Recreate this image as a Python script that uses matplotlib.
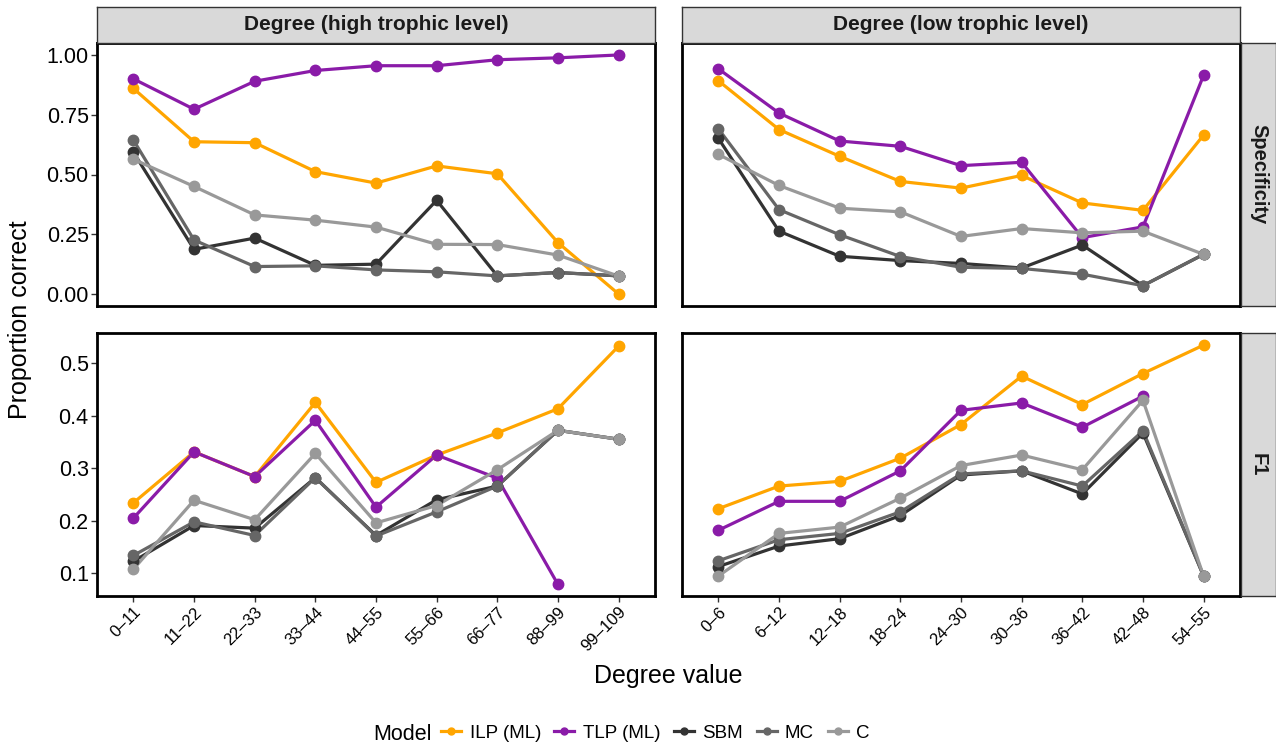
"""
Proporción correcta por grado (specificity y F1), una faceta por nivel trófico
"""

import numpy as np
import matplotlib
matplotlib.use('Agg')
import matplotlib.pyplot as plt
from matplotlib.lines import Line2D

plt.rcParams['font.family'] = ['Liberation Sans', 'DejaVu Sans']

# categorías del eje x
high_cats = ['0–11', '11–22', '22–33', '33–44', '44–55', '55–66', '66–77', '88–99', '99–109']
low_cats = ['0–6', '6–12', '12–18', '18–24', '24–30', '30–36', '36–42', '42–48', '54–55']

models = ['ILP (ML)', 'TLP (ML)', 'SBM', 'MC', 'C']
colors = ['#FFA500', '#8A1BA8', '#333333', '#666666', '#999999']

nan = np.nan

# Specificity, nivel trófico alto
spec_high = {
    'ILP (ML)': [0.86, 0.637, 0.633, 0.512, 0.464, 0.536, 0.503, 0.215, 0.00],
    'TLP (ML)': [0.90, 0.773, 0.89, 0.935, 0.955, 0.955, 0.98, 0.988, 1.00],
    'SBM': [0.593, 0.187, 0.234, 0.12, 0.125, 0.392, 0.076, 0.09, 0.076],
    'MC': [0.644, 0.226, 0.115, 0.118, 0.101, 0.093, 0.076, 0.09, 0.076],
    'C': [0.564, 0.45, 0.331, 0.309, 0.28, 0.208, 0.207, 0.163, 0.075],
}

# Specificity, nivel trófico bajo
spec_low = {
    'ILP (ML)': [0.892, 0.688, 0.576, 0.471, 0.443, 0.496, 0.381, 0.35, 0.665],
    'TLP (ML)': [0.942, 0.757, 0.64, 0.618, 0.537, 0.551, 0.236, 0.281, 0.915],
    'SBM': [0.651, 0.263, 0.158, 0.14, 0.128, 0.109, 0.205, 0.035, 0.166],
    'MC': [0.691, 0.353, 0.248, 0.157, 0.112, 0.107, 0.083, 0.035, 0.166],
    'C': [0.584, 0.454, 0.359, 0.344, 0.241, 0.274, 0.256, 0.263, 0.166],
}

# F1, nivel trófico alto
f1_high = {
    'ILP (ML)': [0.234, 0.331, 0.284, 0.425, 0.273, 0.325, 0.367, 0.413, 0.532],
    'TLP (ML)': [0.205, 0.331, 0.284, 0.391, 0.226, 0.325, 0.281, 0.079, nan],
    'SBM': [0.123, 0.191, 0.186, 0.282, 0.172, 0.24, 0.266, 0.372, 0.355],
    'MC': [0.134, 0.198, 0.172, 0.282, 0.171, 0.217, 0.266, 0.372, 0.355],
    'C': [0.108, 0.239, 0.202, 0.328, 0.196, 0.229, 0.297, 0.372, 0.355],
}

# F1, nivel trófico bajo
f1_low = {
    'ILP (ML)': [0.223, 0.266, 0.275, 0.319, 0.383, 0.475, 0.421, 0.48, 0.534],
    'TLP (ML)': [0.182, 0.237, 0.237, 0.295, 0.41, 0.424, 0.378, 0.437, nan],
    'SBM': [0.113, 0.152, 0.166, 0.21, 0.287, 0.295, 0.251, 0.367, 0.095],
    'MC': [0.124, 0.164, 0.176, 0.217, 0.289, 0.295, 0.266, 0.371, 0.095],
    'C': [0.095, 0.176, 0.188, 0.243, 0.305, 0.325, 0.297, 0.429, 0.095],
}

W, H = 1276, 747
fig = plt.figure(figsize=(W / 100, H / 100), dpi=100)


def px_rect(x0, y0, x1, y1):
    return [x0 / W, 1 - y1 / H, (x1 - x0) / W, (y1 - y0) / H]


cols = [(97, 655), (682, 1240)]
rows = [(43, 306), (333, 596)]
panels = [[spec_high, spec_low], [f1_high, f1_low]]
cats = [high_cats, low_cats]
ylims = [(-0.05, 1.05), (0.057, 0.557)]
yticks = [[0, 0.25, 0.5, 0.75, 1.0], [0.1, 0.2, 0.3, 0.4, 0.5]]
ytlabels = [['0.00', '0.25', '0.50', '0.75', '1.00'], ['0.1', '0.2', '0.3', '0.4', '0.5']]

for r, (y0, y1) in enumerate(rows):
    for c, (x0, x1) in enumerate(cols):
        ax = fig.add_axes(px_rect(x0, y0, x1, y1))
        data = panels[r][c]
        x = np.arange(len(cats[c]))
        for m, col in zip(models, colors):
            ax.plot(x, data[m], color=col, lw=2.3, zorder=2, solid_capstyle='butt')
        for m, col in zip(models, colors):
            ax.plot(x, data[m], 'o', color=col, ms=7.5, zorder=3)
        ax.set_xlim(-0.6, len(x) - 0.4)
        ax.set_ylim(*ylims[r])
        ax.set_xticks(x)
        ax.set_yticks(yticks[r])
        for s in ax.spines.values():
            s.set_linewidth(2)
            s.set_color('black')
        ax.tick_params(length=4, width=1, color='#333333', labelsize=15.5, pad=2)
        if c == 0:
            ax.set_yticklabels(ytlabels[r])
        else:
            ax.tick_params(axis='y', left=False, labelleft=False)
        if r == 1:
            ax.set_xticklabels(cats[c], rotation=45, ha='right', rotation_mode='anchor', fontsize=12)
        else:
            ax.tick_params(axis='x', bottom=False, labelbottom=False)

# tiras de las facetas
for (x0, x1), title in zip(cols, ['Degree (high trophic level)', 'Degree (low trophic level)']):
    sax = fig.add_axes(px_rect(x0, 7, x1, 43))
    sax.set_facecolor('#D9D9D9')
    sax.set_xticks([])
    sax.set_yticks([])
    for s in sax.spines.values():
        s.set_color('#333333')
        s.set_linewidth(1)
    sax.text(0.5, 0.5, title, ha='center', va='center', fontsize=15, fontweight='bold',
             color='#1A1A1A', transform=sax.transAxes)

for (y0, y1), title in zip(rows, ['Specificity', 'F1']):
    sax = fig.add_axes(px_rect(1241, y0, 1276, y1))
    sax.set_facecolor('#D9D9D9')
    sax.set_xticks([])
    sax.set_yticks([])
    for s in sax.spines.values():
        s.set_color('#333333')
        s.set_linewidth(1)
    sax.text(0.5, 0.5, title, ha='center', va='center', rotation=-90, fontsize=14.5,
             fontweight='bold', color='#1A1A1A', transform=sax.transAxes)

fig.text(20 / W, 1 - 320 / H, 'Proportion correct', rotation=90, ha='center', va='center', fontsize=18)
fig.text(668.5 / W, 1 - 676 / H, 'Degree value', ha='center', va='center', fontsize=18)

# leyenda abajo
fig.text(373 / W, 1 - 734 / H, 'Model', ha='left', va='center', fontsize=15.5)
handles = [Line2D([0], [0], color=col, lw=2.3, marker='o', ms=5) for col in colors]
fig.legend(handles, models, loc='center left', bbox_to_anchor=(441 / W, 1 - 733 / H),
           ncol=5, frameon=False, fontsize=13.5, handlelength=1.07, handletextpad=0.45,
           columnspacing=0.72, borderpad=0, borderaxespad=0)

fig.savefig('out.png', dpi=100)
